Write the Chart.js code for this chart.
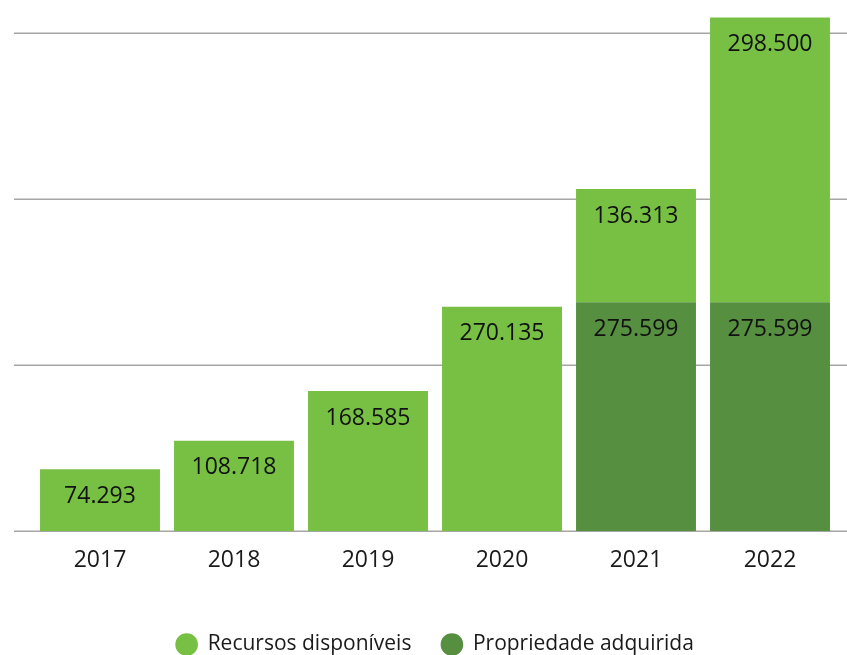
<!DOCTYPE html>
<html>
<head>
<meta charset="utf-8">
<script src="https://cdn.jsdelivr.net/npm/chart.js@4"></script>
<style>
html,body{margin:0;padding:0;background:#ffffff;}
#wrap{width:847px;height:655px;}
</style>
</head>
<body>
<div id="wrap"><canvas id="c" width="847" height="655"></canvas></div>
<script>
// ---- data ----
const anos = ['2017', '2018', '2019', '2020', '2021', '2022'];
// values printed on the bars
const recursosDisponiveis = [74293, 108718, 168585, 270135, 136313, 298500];
// drawn bar heights as they appear in the picture (2022 is drawn taller than its label)
const recursosAltura = [74293, 108718, 168585, 270135, 136313, 343000];
const propriedadeAdquirida = [null, null, null, null, 275599, 275599];
const gradeY = [0, 200000, 400000, 600000];
const nomesSeries = ['Propriedade adquirida', 'Recursos disponíveis'];

const corClara = '#77c044';
const corEscura = '#568f40';

function fmt(n) {
  return String(n).replace(/\B(?=(\d{3})+(?!\d))/g, '.');
}

Chart.defaults.font.family = "'Open Sans', sans-serif";
Chart.defaults.color = '#1a1a1a';

const gridPlugin = {
  id: 'gridPlugin',
  beforeDatasetsDraw(chart) {
    const ctx = chart.ctx;
    const y = chart.scales.y;
    ctx.save();
    ctx.strokeStyle = '#a6a6a6';
    ctx.lineWidth = 1.5;
    gradeY.forEach(v => {
      const py = Math.round(y.getPixelForValue(v)) + 0.25;
      ctx.beginPath();
      ctx.moveTo(14, py);
      ctx.lineTo(chart.width, py);
      ctx.stroke();
    });
    ctx.restore();
  }
};

const rotulosPorSerie = [propriedadeAdquirida, recursosDisponiveis];

const labelPlugin = {
  id: 'labelPlugin',
  afterDatasetsDraw(chart) {
    const ctx = chart.ctx;
    ctx.save();
    ctx.font = "23px 'Open Sans', sans-serif";
    ctx.fillStyle = '#111111';
    ctx.textAlign = 'center';
    ctx.textBaseline = 'middle';
    chart.data.datasets.forEach((ds, di) => {
      const meta = chart.getDatasetMeta(di);
      meta.data.forEach((bar, i) => {
        const v = rotulosPorSerie[di][i];
        if (v == null) return;
        ctx.fillText(fmt(v), bar.x, bar.y + 27);
      });
    });
    ctx.restore();
  }
};

new Chart(document.getElementById('c'), {
  type: 'bar',
  data: {
    labels: anos,
    datasets: [
      {
        label: nomesSeries[0],
        data: propriedadeAdquirida,
        backgroundColor: corEscura,
        borderWidth: 0,
        clip: false
      },
      {
        label: nomesSeries[1],
        data: recursosAltura,
        backgroundColor: corClara,
        borderWidth: 0,
        clip: false
      }
    ]
  },
  options: {
    responsive: false,
    animation: false,
    categoryPercentage: 1,
    barPercentage: 0.895,
    layout: { padding: { top: 33, left: 33, right: 10, bottom: -10 } },
    scales: {
      x: {
        stacked: true,
        grid: { display: false, drawTicks: false },
        border: { display: false },
        ticks: { font: { size: 23 }, color: '#1a1a1a', padding: 16 },
        afterFit(scale) { scale.height = 73; }
      },
      y: {
        stacked: true,
        display: false,
        min: 0,
        max: 600000,
        ticks: { stepSize: 200000 }
      }
    },
    plugins: {
      legend: {
        position: 'bottom',
        reverse: true,
        labels: {
          usePointStyle: true,
          pointStyle: 'circle',
          boxHeight: 16,
          font: { size: 21 },
          color: '#1a1a1a',
          padding: 30
        }
      },
      tooltip: { enabled: false }
    }
  },
  plugins: [gridPlugin, labelPlugin]
});
</script>
</body>
</html>
